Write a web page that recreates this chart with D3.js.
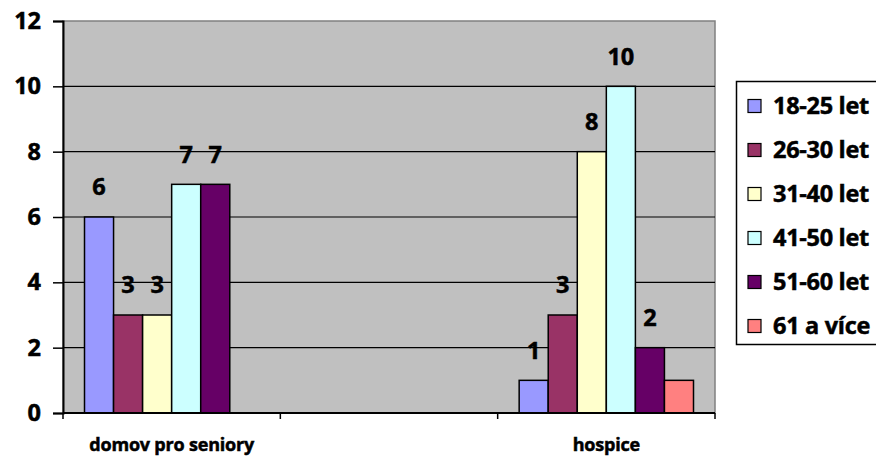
<!DOCTYPE html>
<html>
<head>
<meta charset="utf-8">
<script src="https://cdn.jsdelivr.net/npm/d3@7"></script>
<style>
  html, body { margin: 0; padding: 0; background: #fff; }
  svg { display: block; }
  text { font-family: "Open Sans", Lato, sans-serif; font-weight: bold; fill: #000;
         stroke: #000; stroke-width: 0.5px; }
</style>
</head>
<body>
<svg id="chart" width="876" height="458"></svg>
<script>
// Categories along the x axis (the middle slot is an empty category)
const categories = ["domov pro seniory", "", "hospice"];

// Age groups (series)
const seriesNames = ["18-25 let", "26-30 let", "31-40 let", "41-50 let", "51-60 let", "61 a více"];
const seriesColors = ["#9999FF", "#993366", "#FFFFCC", "#CCFFFF", "#660066", "#FF8080"];

// Counts per series, one value per category
const v18_25 = [6, null, 1];
const v26_30 = [3, null, 3];
const v31_40 = [3, null, 8];
const v41_50 = [7, null, 10];
const v51_60 = [7, null, 2];
const v61plus = [0, null, 1];
const seriesValues = [v18_25, v26_30, v31_40, v41_50, v51_60, v61plus];

// Series that carry data labels above their bars
const labelledSeries = ["18-25 let", "26-30 let", "31-40 let", "41-50 let", "51-60 let"];

// Y axis ticks
const yTicks = [0, 2, 4, 6, 8, 10, 12];

const svg = d3.select("#chart");

const plot = { left: 63, right: 715, top: 21, bottom: 413 };

const x0 = d3.scaleBand().domain(categories).range([plot.left, plot.right]).padding(0);
const groupPad = 21.5;
const x1 = d3.scaleBand().domain(seriesNames)
  .range([groupPad, x0.bandwidth() - groupPad]).padding(0);
const y = d3.scaleLinear().domain([0, 12]).range([plot.bottom, plot.top]);

// Plot background
svg.append("rect")
  .attr("x", plot.left).attr("y", plot.top)
  .attr("width", plot.right - plot.left).attr("height", plot.bottom - plot.top)
  .attr("fill", "#C0C0C0")
  .attr("stroke", "#808080").attr("stroke-width", 1.5);

// Horizontal gridlines
svg.append("g").selectAll("line")
  .data(yTicks.filter(t => t > 0 && t < 12))
  .join("line")
  .attr("x1", plot.left).attr("x2", plot.right)
  .attr("y1", d => y(d)).attr("y2", d => y(d))
  .attr("stroke", "#000").attr("stroke-width", 1.2);

// Bars
const rows = [];
categories.forEach((c, ci) => {
  seriesNames.forEach((s, si) => {
    const v = seriesValues[si][ci];
    if (v !== null) rows.push({ cat: c, series: s, value: v, color: seriesColors[si] });
  });
});

svg.append("g").selectAll("rect")
  .data(rows.filter(d => d.value > 0))
  .join("rect")
  .attr("x", d => x0(d.cat) + x1(d.series))
  .attr("y", d => y(d.value))
  .attr("width", x1.bandwidth())
  .attr("height", d => y(0) - y(d.value))
  .attr("fill", d => d.color)
  .attr("stroke", "#000").attr("stroke-width", 1.5);

// Data labels
svg.append("g").selectAll("text")
  .data(rows.filter(d => d.value > 0 && labelledSeries.includes(d.series)))
  .join("text")
  .attr("x", d => x0(d.cat) + x1(d.series) + x1.bandwidth() / 2)
  .attr("y", d => y(d.value) - 30)
  .attr("dy", "0.36em")
  .attr("text-anchor", "middle")
  .attr("font-size", 23.5)
  .text(d => d.value);

// Y axis
const yAxis = svg.append("g")
  .attr("transform", `translate(${plot.left},0)`)
  .call(d3.axisLeft(y).tickValues(yTicks).tickSize(10).tickPadding(12));
yAxis.select(".domain").attr("stroke", "#000").attr("stroke-width", 2);
yAxis.selectAll(".tick line").attr("stroke", "#000").attr("stroke-width", 1.5);
yAxis.selectAll(".tick text")
  .attr("font-size", 23.5).attr("font-family", "'Open Sans', sans-serif").attr("font-weight", "bold")
  .attr("stroke", "#000").attr("stroke-width", 0.5);

// X axis
const boundaries = categories.map(c => x0(c)).concat([plot.right]);
svg.append("line")
  .attr("x1", plot.left).attr("x2", plot.right)
  .attr("y1", plot.bottom).attr("y2", plot.bottom)
  .attr("stroke", "#000").attr("stroke-width", 2);
svg.append("g").selectAll("line")
  .data(boundaries)
  .join("line")
  .attr("x1", d => d).attr("x2", d => d)
  .attr("y1", plot.bottom).attr("y2", plot.bottom + 6)
  .attr("stroke", "#000").attr("stroke-width", 1.5);
svg.append("g").selectAll("text")
  .data(categories.filter(c => c !== ""))
  .join("text")
  .attr("x", d => x0(d) + x0.bandwidth() / 2)
  .attr("y", 451)
  .attr("text-anchor", "middle")
  .attr("font-size", 18)
  .attr("letter-spacing", -0.2)
  .attr("stroke-width", 0.3)
  .text(d => d);

// Legend
const legend = svg.append("g");
legend.append("rect")
  .attr("x", 736.5).attr("y", 81.5)
  .attr("width", 160).attr("height", 263)
  .attr("fill", "#fff").attr("stroke", "#000").attr("stroke-width", 1.5);
const items = legend.selectAll("g.item")
  .data(seriesNames)
  .join("g")
  .attr("class", "item")
  .attr("transform", (d, i) => `translate(748, ${106 + i * 44})`);
items.append("rect")
  .attr("x", 0).attr("y", -6.5)
  .attr("width", 13).attr("height", 13)
  .attr("fill", (d, i) => seriesColors[i])
  .attr("stroke", "#000").attr("stroke-width", 1.2);
items.append("text")
  .attr("x", 25).attr("y", 0)
  .attr("dy", "0.36em")
  .attr("font-size", 23.5)
  .attr("letter-spacing", -0.3)
  .text(d => d);
</script>
</body>
</html>
